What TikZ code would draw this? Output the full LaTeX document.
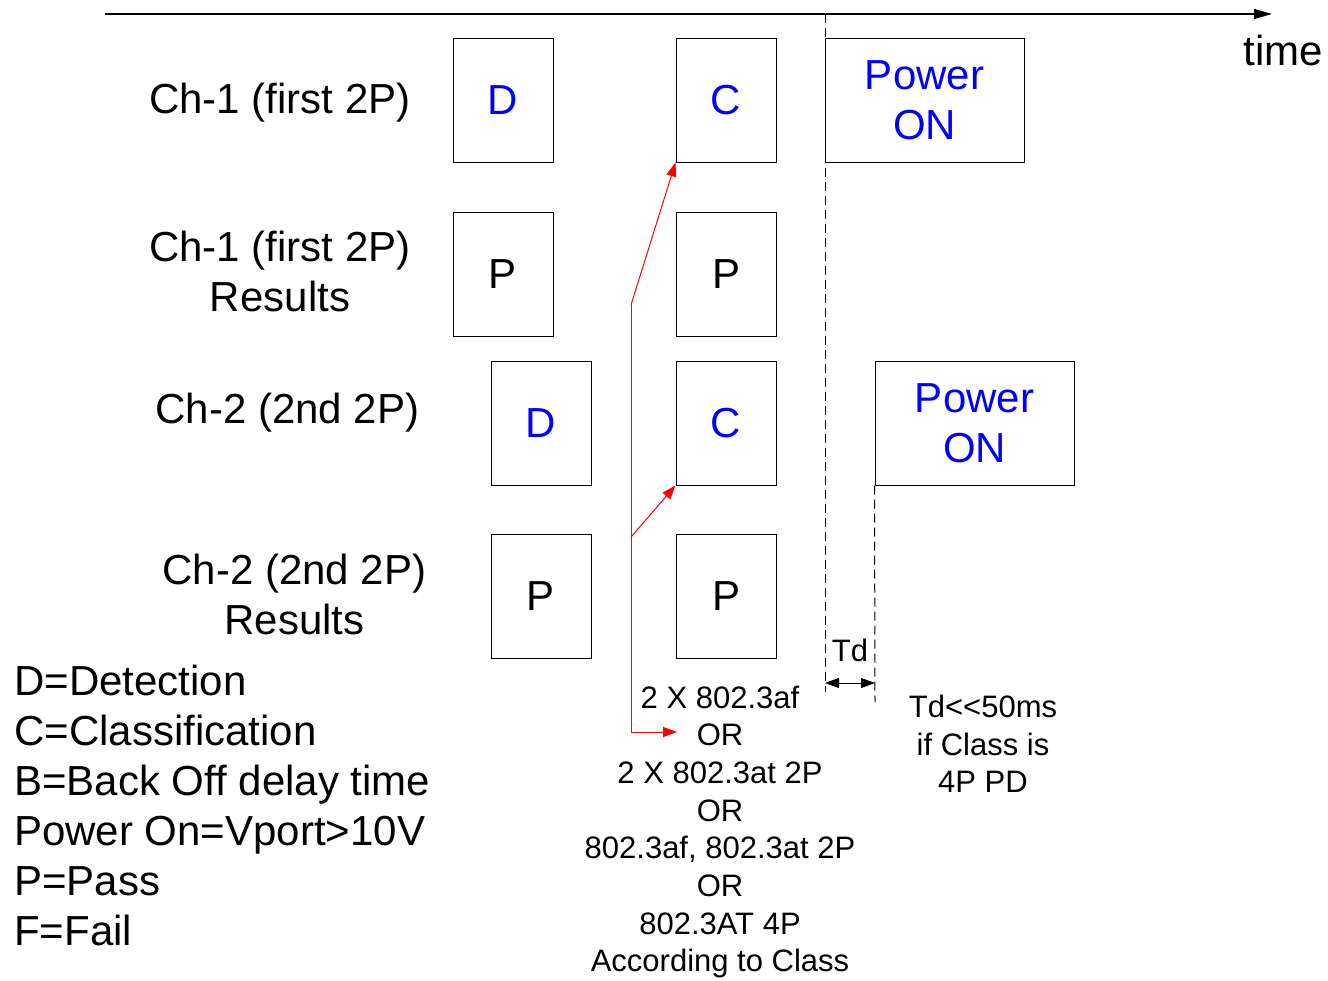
\documentclass[tikz,border=0pt]{standalone}
\usepackage{fontspec}
\setmainfont{Liberation Sans}
\usetikzlibrary{arrows.meta}
\begin{document}
\begin{tikzpicture}[x=1pt,y=-1pt,
  big/.style={font=\fontsize{42}{50}\selectfont, inner sep=0pt, align=center},
  small/.style={font=\fontsize{31}{37.7}\selectfont, inner sep=0pt, align=center},
  box/.style={draw, line width=1pt, minimum width=100pt, minimum height=124pt, inner sep=0pt, font=\fontsize{42}{50}\selectfont},
  wbox/.style={box, minimum width=199pt, align=center, text=blue},
  redarr/.style={draw=red, line width=1pt, -{Triangle[length=14pt,width=10pt]}},
  dash line/.style={line width=1pt, dash pattern=on 9pt off 5pt}
]
\useasboundingbox (0,0) rectangle (1328,980);
% time axis
\coordinate (ax0) at (105,14);
\coordinate (ax1) at (1272,14);
\draw[line width=1.3pt, -{Triangle[length=18pt,width=10pt]}] (ax0) -- (ax1);
\node[big] (time) at (1283,50) {time};

% row labels
\node[big] (l1) at (280,103) {Ch-1 (first 2P)};
\node[big] (l2) at (280,271) {Ch-1 (first 2P)\\Results};
\node[big] (l3) at (287.5,413) {Ch-2 (2nd 2P)};
\node[big] (l4) at (294.5,594) {Ch-2 (2nd 2P)\\Results};

% boxes
\node[box, text=blue] (D1) at (503,100) {D};
\node[box, text=blue] (C1) at (726,100) {C};
\node[wbox] (PW1) at (924.5,100) {Power\\ON};
\node[box] (P1a) at (503,274) {P};
\node[box] (P1b) at (726,274) {P};
\node[box, text=blue] (D2) at (541,423) {D};
\node[box, text=blue] (C2) at (726,423) {C};
\node[wbox] (PW2) at (974.5,423) {Power\\ON};
\node[box] (P2a) at (541,596) {P};
\node[box] (P2b) at (726,596) {P};

% dashed lines
\coordinate (d1t) at (825,14);
\coordinate (d1b) at (825,692);
\coordinate (d2b) at (875,702);
\draw[dash line] (d1t) -- (d1b);
\draw[dash line] (PW2.south west) -- (d2b);

% Td
\node[small] (td) at (850,650) {Td};
\coordinate (tda) at (825,683);
\coordinate (tdb) at (875,683);
\draw[line width=1pt, {Triangle[length=14pt,width=10pt]}-{Triangle[length=14pt,width=10pt]}] (tda) -- (tdb);
\node[small] (tdnote) at (983,744) {Td<{}<50ms\\if Class is\\4P PD};

% legend
\node[big, anchor=base west] (g1) at (14,695) {D=Detection};
\node[big, anchor=base west] (g2) at (14,745) {C=Classification};
\node[big, anchor=base west] (g3) at (14,795) {B=Back Off delay time};
\node[big, anchor=base west] (g4) at (14,845) {Power On=Vport>10V};
\node[big, anchor=base west] (g5) at (14,895) {P=Pass};
\node[big, anchor=base west] (g6) at (14,945) {F=Fail};

% bottom text
\node[small] (opts) at (720,832) {2 X 802.3af\\OR\\2 X 802.3at 2P\\OR\\802.3af, 802.3at 2P\\OR\\802.3AT 4P\\According to Class};

% red arrows
\coordinate (rb) at (631,305);
\coordinate (rm) at (631,537);
\coordinate (rl) at (631,732);
\coordinate (ror) at (677,732);
\draw[redarr] (rb) -- (C1.south west);
\draw[redarr] (rm) -- (C2.south west);
\draw[redarr] (rb) -- (rl) -- (ror);
\end{tikzpicture}
\end{document}
